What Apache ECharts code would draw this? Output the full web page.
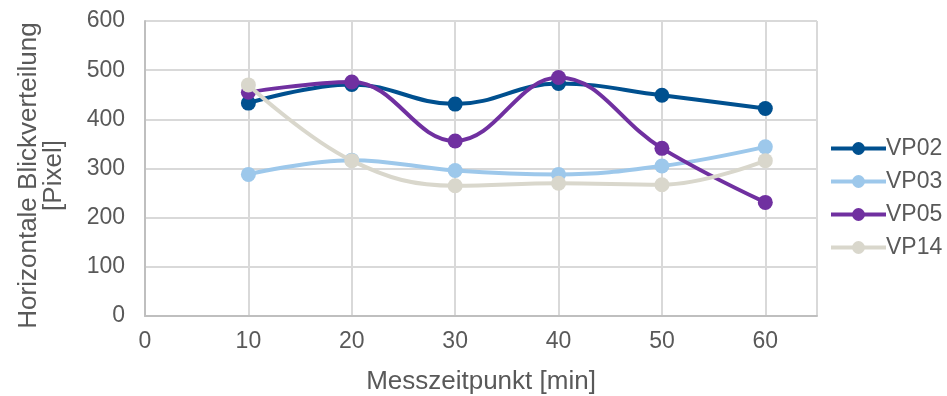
<!DOCTYPE html>
<html>
<head>
<meta charset="utf-8">
<script src="https://cdn.jsdelivr.net/npm/echarts@6/dist/echarts.min.js"></script>
<style>
  html, body { margin: 0; padding: 0; background: #fff; }
  #chart { width: 947px; height: 396px; }
</style>
</head>
<body>
<div id="chart"></div>
<script>
// Measurement times (minutes)
const times = [10, 20, 30, 40, 50, 60];

// Horizontal gaze distribution per participant [pixel]
const vp02 = [433, 471, 431, 473, 449, 422];
const vp03 = [288, 317, 296, 288, 305, 344];
const vp05 = [455, 476, 356, 485, 341, 231];
const vp14 = [470, 316, 265, 270, 267, 316];

const seriesNames = ['VP02', 'VP03', 'VP05', 'VP14'];
const seriesValues = [vp02, vp03, vp05, vp14];
const seriesColors = ['#00508f', '#9dc8eb', '#7030a0', '#d9d7cc'];

const FONT = '"Liberation Sans", Arial, sans-serif';
const TEXT = '#595959';

const chart = echarts.init(document.getElementById('chart'), null, { renderer: 'canvas' });

chart.setOption({
  animation: false,
  backgroundColor: '#ffffff',
  grid: {
    left: 145, right: 130, top: 21, bottom: 80,
    containLabel: false,
    outerBoundsMode: 'none'
  },
  legend: {
    orient: 'vertical',
    left: 829,
    top: 137,
    padding: 0,
    itemWidth: 55,
    itemHeight: 16,
    itemGap: 10,
    lineStyle: { width: 4 },
    textStyle: { fontFamily: FONT, fontSize: 23, color: TEXT, padding: [0, 0, 0, -5] },
    data: seriesNames
  },
  xAxis: {
    type: 'value',
    min: 0,
    max: 65,
    interval: 10,
    name: 'Messzeitpunkt [min]',
    nameLocation: 'middle',
    nameGap: 53,
    nameTextStyle: { fontFamily: FONT, fontSize: 26, color: TEXT },
    axisLine: { show: true, lineStyle: { color: '#bfbfbf', width: 2 } },
    axisTick: { show: false },
    axisLabel: {
      fontFamily: FONT, fontSize: 23, color: TEXT, margin: 14,
      formatter: v => (v % 10 === 0 && v <= 60 ? String(v) : '')
    },
    splitLine: { show: true, lineStyle: { color: '#d9d9d9', width: 2 } }
  },
  yAxis: {
    type: 'value',
    min: 0,
    max: 600,
    interval: 100,
    name: 'Horizontale Blickverteilung\n[Pixel]',
    nameLocation: 'middle',
    nameRotate: 90,
    nameGap: 79,
    nameTextStyle: {
      fontFamily: FONT, fontSize: 26, color: TEXT, lineHeight: 25, align: 'center',
      padding: [0, 14, 0, 0]
    },
    axisLine: { show: true, lineStyle: { color: '#bfbfbf', width: 2 } },
    axisTick: { show: false },
    axisLabel: { fontFamily: FONT, fontSize: 23, color: TEXT, margin: 20 },
    splitLine: { show: true, lineStyle: { color: '#d9d9d9', width: 2 } }
  },
  series: seriesNames.map((name, i) => ({
    name: name,
    type: 'line',
    smooth: 0.4,
    symbol: 'circle',
    symbolSize: 15,
    data: times.map((t, j) => [t, seriesValues[i][j]]),
    itemStyle: { color: seriesColors[i] },
    lineStyle: { color: seriesColors[i], width: 4 },
    z: 2 + i
  }))
});
</script>
</body>
</html>
